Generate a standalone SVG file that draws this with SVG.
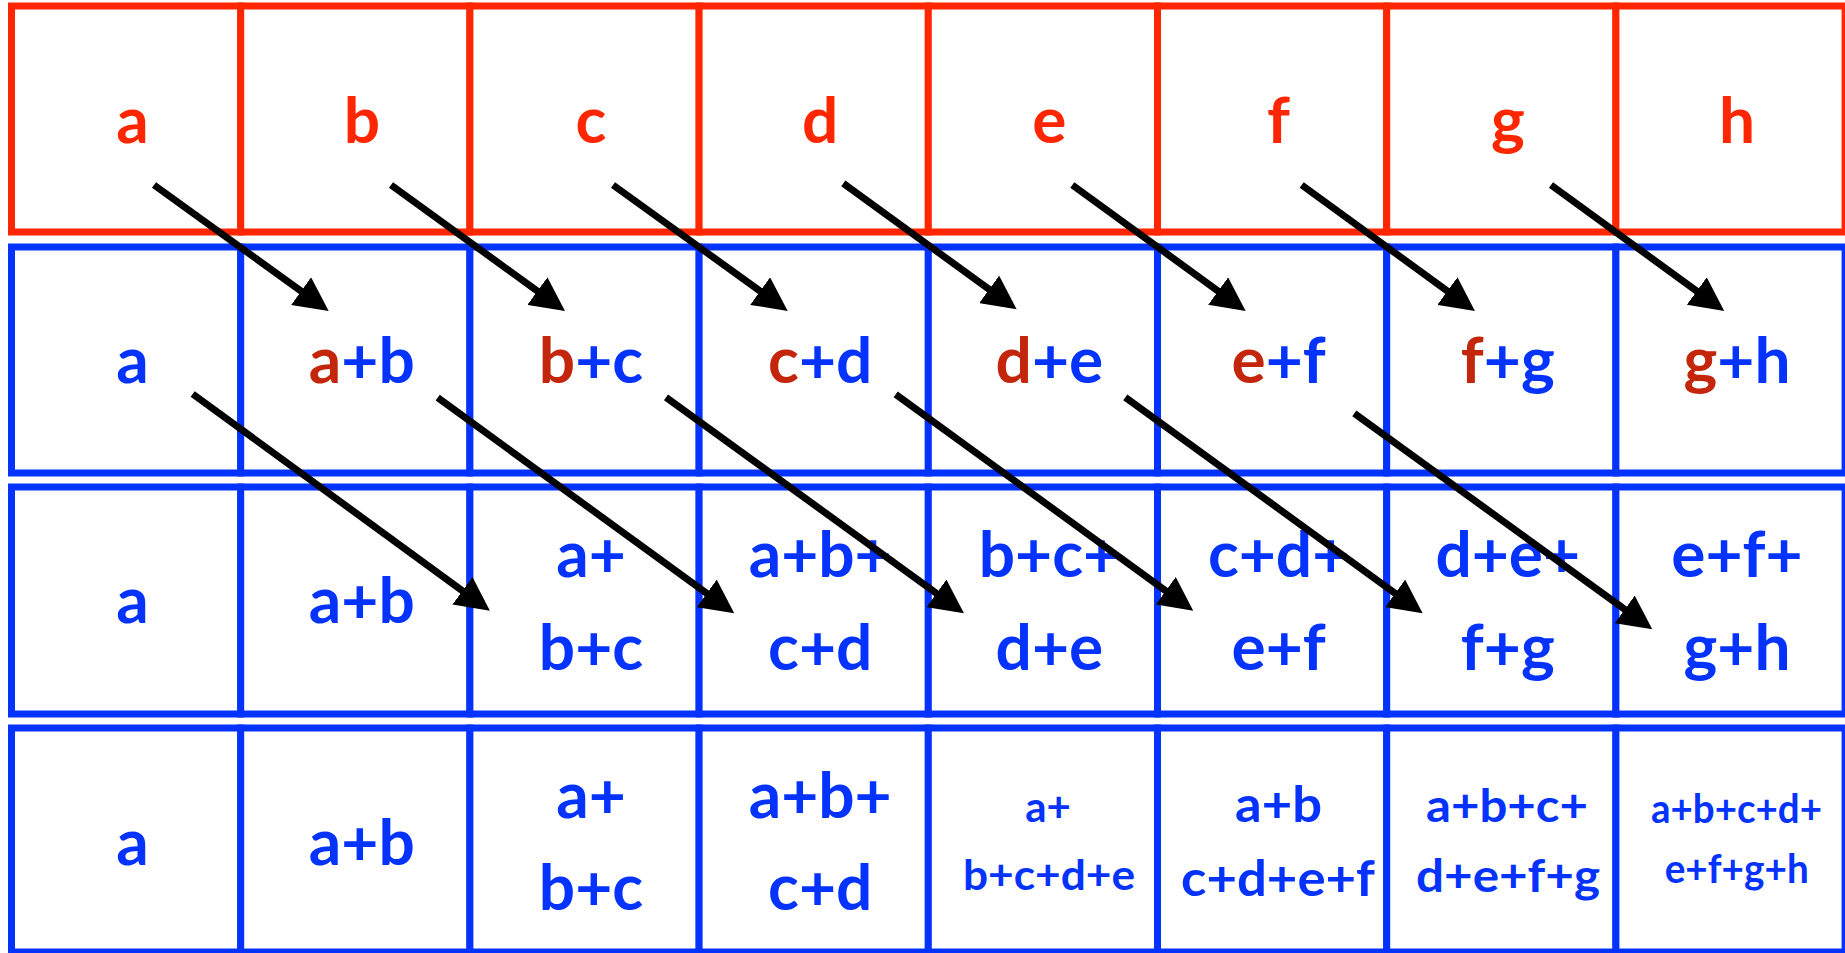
<svg xmlns="http://www.w3.org/2000/svg" width="1845" height="953" viewBox="0 0 1845 953">
<style>
.r{fill:#fff;stroke:#FF2600;stroke-width:7}
.b{fill:#fff;stroke:#0433FF;stroke-width:7}
text{font-family:Lato,"Open Sans","DejaVu Sans",sans-serif;font-weight:bold;text-anchor:middle;font-size:64px;fill:#0433FF}
.tr{fill:#FF2600}
.dr{fill:#C4260C}
.arr{stroke:#000;stroke-width:7;fill:none;marker-end:url(#ah)}
</style>
<defs>
<marker id="ah" markerUnits="userSpaceOnUse" markerWidth="34" markerHeight="34" refX="6" refY="17" orient="auto">
<path d="M0,0 L34,17 L0,34 z" fill="#000"/>
</marker>
</defs>
<g id="row1">
<g id="r1c1"><rect class="r" x="11.5" y="6" width="229.2" height="226"/><text class="tr" x="132.6" y="143">a</text></g>
<g id="r1c2"><rect class="r" x="240.7" y="6" width="229.2" height="226"/><text class="tr" x="361.8" y="143">b</text></g>
<g id="r1c3"><rect class="r" x="469.9" y="6" width="229.2" height="226"/><text class="tr" x="591" y="143">c</text></g>
<g id="r1c4"><rect class="r" x="699.1" y="6" width="229.2" height="226"/><text class="tr" x="820.2" y="143">d</text></g>
<g id="r1c5"><rect class="r" x="928.3" y="6" width="229.2" height="226"/><text class="tr" x="1049.4" y="143">e</text></g>
<g id="r1c6"><rect class="r" x="1157.5" y="6" width="229.2" height="226"/><text class="tr" x="1278.6" y="143">f</text></g>
<g id="r1c7"><rect class="r" x="1386.7" y="6" width="229.2" height="226"/><text class="tr" x="1507.8" y="143">g</text></g>
<g id="r1c8"><rect class="r" x="1615.9" y="6" width="229.2" height="226"/><text class="tr" x="1737" y="143">h</text></g>
</g>
<g id="row2">
<g id="r2c1"><rect class="b" x="11.5" y="247" width="229.2" height="226"/><text x="132.6" y="383">a</text></g>
<g id="r2c2"><rect class="b" x="240.7" y="247" width="229.2" height="226"/><text x="361.8" y="383"><tspan class="dr">a</tspan>+b</text></g>
<g id="r2c3"><rect class="b" x="469.9" y="247" width="229.2" height="226"/><text x="591" y="383"><tspan class="dr">b</tspan>+c</text></g>
<g id="r2c4"><rect class="b" x="699.1" y="247" width="229.2" height="226"/><text x="820.2" y="383"><tspan class="dr">c</tspan>+d</text></g>
<g id="r2c5"><rect class="b" x="928.3" y="247" width="229.2" height="226"/><text x="1049.4" y="383"><tspan class="dr">d</tspan>+e</text></g>
<g id="r2c6"><rect class="b" x="1157.5" y="247" width="229.2" height="226"/><text x="1278.6" y="383"><tspan class="dr">e</tspan>+f</text></g>
<g id="r2c7"><rect class="b" x="1386.7" y="247" width="229.2" height="226"/><text x="1507.8" y="383"><tspan class="dr">f</tspan>+g</text></g>
<g id="r2c8"><rect class="b" x="1615.9" y="247" width="229.2" height="226"/><text x="1737" y="383"><tspan class="dr">g</tspan>+h</text></g>
</g>
<g id="row3">
<g id="r3c1"><rect class="b" x="11.5" y="487" width="229.2" height="227"/><text x="132.6" y="623">a</text></g>
<g id="r3c2"><rect class="b" x="240.7" y="487" width="229.2" height="227"/><text x="361.8" y="623">a+b</text></g>
<g id="r3c3"><rect class="b" x="469.9" y="487" width="229.2" height="227"/><text x="591" y="577">a+</text><text x="591" y="670">b+c</text></g>
<g id="r3c4"><rect class="b" x="699.1" y="487" width="229.2" height="227"/><text x="820.2" y="577">a+b+</text><text x="820.2" y="670">c+d</text></g>
<g id="r3c5"><rect class="b" x="928.3" y="487" width="229.2" height="227"/><text x="1049.4" y="577">b+c+</text><text x="1049.4" y="670">d+e</text></g>
<g id="r3c6"><rect class="b" x="1157.5" y="487" width="229.2" height="227"/><text x="1278.6" y="577">c+d+</text><text x="1278.6" y="670">e+f</text></g>
<g id="r3c7"><rect class="b" x="1386.7" y="487" width="229.2" height="227"/><text x="1507.8" y="577">d+e+</text><text x="1507.8" y="670">f+g</text></g>
<g id="r3c8"><rect class="b" x="1615.9" y="487" width="229.2" height="227"/><text x="1737" y="577">e+f+</text><text x="1737" y="670">g+h</text></g>
</g>
<g id="row4">
<g id="r4c1"><rect class="b" x="11.5" y="728" width="229.2" height="224"/><text x="132.6" y="865">a</text></g>
<g id="r4c2"><rect class="b" x="240.7" y="728" width="229.2" height="224"/><text x="361.8" y="865">a+b</text></g>
<g id="r4c3"><rect class="b" x="469.9" y="728" width="229.2" height="224"/><text x="591" y="818">a+</text><text x="591" y="910">b+c</text></g>
<g id="r4c4"><rect class="b" x="699.1" y="728" width="229.2" height="224"/><text x="820.2" y="818">a+b+</text><text x="820.2" y="910">c+d</text></g>
<g id="r4c5"><rect class="b" x="928.3" y="728" width="229.2" height="224"/><text x="1048" y="822" style="font-size:42px">a+</text><text x="1049" y="890" style="font-size:42px" textLength="172" lengthAdjust="spacingAndGlyphs">b+c+d+e</text></g>
<g id="r4c6"><rect class="b" x="1157.5" y="728" width="229.2" height="224"/><text x="1278.6" y="822" style="font-size:50px" textLength="87" lengthAdjust="spacingAndGlyphs">a+b</text><text x="1278" y="896" style="font-size:50px" textLength="194" lengthAdjust="spacingAndGlyphs">c+d+e+f</text></g>
<g id="r4c7"><rect class="b" x="1386.7" y="728" width="229.2" height="224"/><text x="1507" y="822" style="font-size:45px" textLength="162" lengthAdjust="spacingAndGlyphs">a+b+c+</text><text x="1508" y="892" style="font-size:45px" textLength="184" lengthAdjust="spacingAndGlyphs">d+e+f+g</text></g>
<g id="r4c8"><rect class="b" x="1615.9" y="728" width="229.2" height="224"/><text x="1736.5" y="823" style="font-size:40px" textLength="171" lengthAdjust="spacingAndGlyphs">a+b+c+d+</text><text x="1736.7" y="883" style="font-size:40px" textLength="144" lengthAdjust="spacingAndGlyphs">e+f+g+h</text></g>
</g>
<g id="connectors">
<path class="arr" d="M154,185 L306,294.6"/>
<path class="arr" d="M391,185 L542.3,294.6"/>
<path class="arr" d="M613,185 L765,294.6"/>
<path class="arr" d="M843.3,183.3 L994,292.9"/>
<path class="arr" d="M1072.3,185 L1223,294.6"/>
<path class="arr" d="M1301.7,185 L1452.3,294.6"/>
<path class="arr" d="M1551,185 L1701.6,294.6"/>
<path class="arr" d="M192.7,394 L467.3,594.3"/>
<path class="arr" d="M437.7,397.7 L711.6,596.9"/>
<path class="arr" d="M666,397.3 L941.3,596.9"/>
<path class="arr" d="M895.7,394.3 L1170.6,594.3"/>
<path class="arr" d="M1125.3,397.3 L1400,596.9"/>
<path class="arr" d="M1354.3,413.3 L1629.6,612.9"/>
</g>
</svg>
